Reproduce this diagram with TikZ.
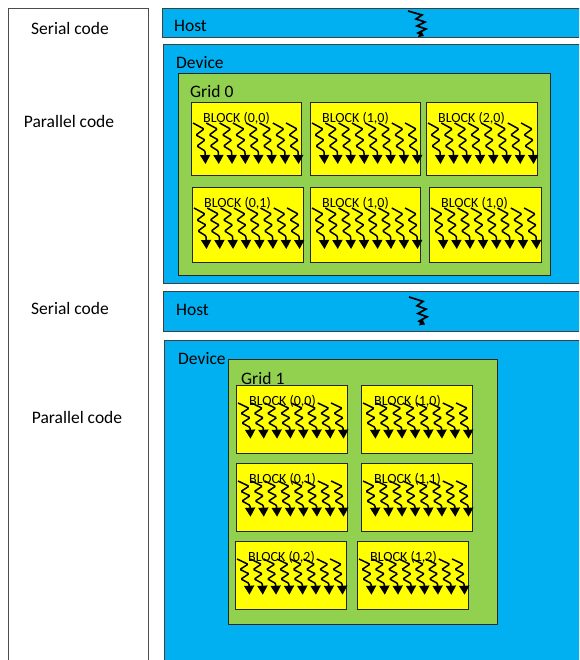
\documentclass[tikz,border=0pt]{standalone}
\usepackage{fontspec}
\setmainfont{Carlito}
\usetikzlibrary{arrows.meta}

\definecolor{devblue}{HTML}{00B0F0}
\definecolor{gridgreen}{HTML}{92D050}
\definecolor{blockyellow}{HTML}{FFFF00}

\tikzset{
  hostbox/.style={draw=black!75, line width=0.9pt, fill=devblue},
  gridbox/.style={draw=black!85, line width=0.9pt, fill=gridgreen},
  block/.style={draw=black!85, line width=0.9pt, fill=blockyellow, anchor=north west, inner sep=0pt},
  bigtext/.style={font=\fontsize{17.5}{20}\selectfont, inner sep=0pt},
  blocklabel/.style={font=\fontsize{14}{16}\selectfont, inner sep=0pt, anchor=west},
  thread/.pic={
    \draw[line width=1.5pt, rounded corners=1pt, -{Triangle[length=9pt,width=10pt]}]
      (0,0) -- (11,6) -- (3,12) -- (12,17) -- (4,23) -- (12,28) -- (12.5,41);
  },
  hostthread/.pic={
    \draw[line width=1.7pt, -{Triangle[length=5pt,width=7pt]}]
      (0,0) -- (14,4) -- (8,8) -- (17,11) -- (9,15) -- (18,18) -- (10,22) -- (16,25);
  }
}

\begin{document}
\begin{tikzpicture}[x=1pt,y=-1pt]
 \useasboundingbox (0,0) rectangle (579,660);
 \clip (0,0) rectangle (579,660);

 % left column
 \draw[draw=black!70, line width=0.9pt, fill=white] (8,680) -- (8,8) -- (148,8) -- (148,680);
 \node (serial0) [bigtext] at (70,28) {Serial code};
 \node (parallel0) [bigtext] at (69,121) {Parallel code};
 \node (serial1) [bigtext] at (70,308) {Serial code};
 \node (parallel1) [bigtext] at (77,417) {Parallel code};

 % first host / device
 \draw[hostbox] (162,8) rectangle (600,37);
 \node (host0) [bigtext, anchor=west] at (174,26) {Host};
 \pic at (408,11) {hostthread};
 \draw[hostbox] (163,44) rectangle (600,283);
 \node (device0) [bigtext, anchor=west] at (176,63) {Device};
 \draw[gridbox] (178,73) rectangle (550,275);
 \node (grid0) [bigtext, anchor=west] at (190,91) {Grid 0};

 \foreach \n/\x/\y/\w/\h/\lbl in {a/191/102/110/73/{0,0}, b/310/102/110/73/{1,0}, c/426/102/111/73/{2,0},
                                  d/192/187/111/75/{0,1}, e/310/187/110/75/{1,0}, f/429/187/112/75/{1,0}}
 {
  \node (blk\n) [block, minimum width=\w pt, minimum height=\h pt] at (\x,\y) {};
  \node (lbl\n) [blocklabel] at ([xshift=12pt,yshift=-16pt]blk\n.north west) {BLOCK (\lbl)};
  \foreach \i in {0,...,7}
    \pic at ([xshift=2pt+\i*13.3pt,yshift=-21pt]blk\n.north west) {thread};
 }

 % second host / device
 \draw[hostbox] (163,291) rectangle (600,331);
 \node (host1) [bigtext, anchor=west] at (176,310) {Host};
 \pic[yscale=1.1] at (409,297) {hostthread};
 \draw[hostbox] (164,340) rectangle (600,690);
 \node (device1) [bigtext, anchor=west] at (178,359) {Device};
 \draw[gridbox] (228,359) rectangle (497,624);
 \node (grid1) [bigtext, anchor=west] at (241,378) {Grid 1};

 \foreach \n/\x/\y/\lbl in {g/236/385/{0,0}, h/361/385/{1,0}, i/236/463/{0,1},
                            j/361/463/{1,1}, k/235/541/{0,2}, l/357/541/{1,2}}
 {
  \node (blk\n) [block, minimum width=111pt, minimum height=68pt] at (\x,\y) {};
  \node (lbl\n) [blocklabel] at ([xshift=13pt,yshift=-16pt]blk\n.north west) {BLOCK (\lbl)};
  \foreach \i in {0,...,7}
    \pic[yscale=0.87] at ([xshift=2pt+\i*13.3pt,yshift=-18pt]blk\n.north west) {thread};
 }
\end{tikzpicture}
\end{document}
